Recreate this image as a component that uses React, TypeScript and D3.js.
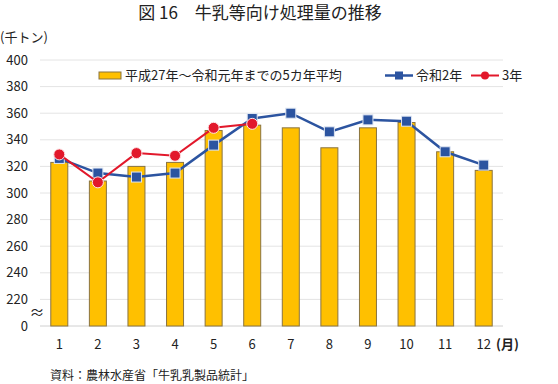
import * as d3 from "d3";

const months = ["1", "2", "3", "4", "5", "6", "7", "8", "9", "10", "11", "12"];
const avg5 = [323, 309, 320, 323, 347, 351, 349, 334, 349, 353, 331, 317];
const r2 = [326, 315, 312, 315, 336, 356, 360, 346, 355, 354, 331, 321];
const r3 = [329, 308, 330, 328, 349, 352];
const yTicks = [200, 220, 240, 260, 280, 300, 320, 340, 360, 380, 400];

const FONT = "'Noto Sans CJK JP', 'Noto Sans', sans-serif";
const W = 558;
const H = 384;

export default function App() {
  const x = d3.scaleBand().domain(months).range([40, 503]);
  // bottom step is a scale break: 200 is drawn as "0"
  const y = d3.scaleLinear().domain([200, 400]).range([326, 60]);
  const cx = (m: string) => (x(m) ?? 0) + x.bandwidth() / 2;
  const barW = 17;

  const line = d3
    .line<number>()
    .x((_, i) => cx(months[i]))
    .y((d) => y(d));

  return (
    <svg
      width={W}
      height={H}
      style={{ position: "absolute", left: 0, top: 0, background: "#fff" }}
      fontFamily={FONT}
    >
      <text x={260} y={19} textAnchor="middle" fontSize={17} fill="#222">
        図 16　牛乳等向け処理量の推移
      </text>
      <text x={0} y={42} fontSize={13} fill="#222">
        (千トン)
      </text>

      {/* gridlines */}
      {yTicks.map((t) => (
        <line
          key={t}
          x1={40}
          x2={503}
          y1={y(t)}
          y2={y(t)}
          stroke={t === 200 ? "#d0d0d0" : "#e4e4e4"}
          strokeWidth={1}
        />
      ))}
      {yTicks.map((t) => (
        <text
          key={"l" + t}
          x={28}
          y={y(t)}
          dy="0.35em"
          textAnchor="end"
          fontSize={13}
          fill="#222"
        >
          {t === 200 ? "0" : t}
        </text>
      ))}
      <text x={37} y={313} dy="0.35em" textAnchor="middle" fontSize={15} fill="#222">
        ≈
      </text>

      {/* bars */}
      {avg5.map((v, i) => (
        <rect
          key={"b" + i}
          x={cx(months[i]) - barW / 2}
          y={y(v)}
          width={barW}
          height={y(200) - y(v)}
          fill="#FFC000"
          stroke="#8a7440"
          strokeWidth={1}
        />
      ))}

      {/* 令和2年 */}
      <path d={line(r2) ?? ""} fill="none" stroke="#2C54A0" strokeWidth={2.5} />
      {r2.map((v, i) => (
        <rect
          key={"s" + i}
          x={cx(months[i]) - 5}
          y={y(v) - 5}
          width={10}
          height={10}
          fill="#2C54A0"
          stroke="#dfe6f2"
          strokeWidth={1}
        />
      ))}

      {/* 3年 */}
      <path d={line(r3) ?? ""} fill="none" stroke="#E2182B" strokeWidth={2} />
      {r3.map((v, i) => (
        <circle
          key={"c" + i}
          cx={cx(months[i])}
          cy={y(v)}
          r={5.5}
          fill="#E2182B"
          stroke="#fde4e6"
          strokeWidth={1}
        />
      ))}

      {/* x labels */}
      {months.map((m) => (
        <text key={"x" + m} x={cx(m)} y={349} textAnchor="middle" fontSize={13} fill="#222">
          {m}
        </text>
      ))}
      <text x={496} y={349} fontSize={13} fontWeight="bold" fill="#222">
        (月)
      </text>
      <text x={50} y={380} fontSize={12} fill="#222">
        資料：農林水産省「牛乳乳製品統計」
      </text>

      {/* legend */}
      <rect x={99} y={72} width={22} height={7} fill="#FFC000" stroke="#8a7440" strokeWidth={1} />
      <text x={125} y={80} fontSize={13} fill="#222">
        平成27年～令和元年までの5カ年平均
      </text>
      <line x1={385} x2={413} y1={75.5} y2={75.5} stroke="#2C54A0" strokeWidth={2.5} />
      <rect x={395} y={71.5} width={8} height={8} fill="#2C54A0" />
      <text x={416} y={80} fontSize={13} fill="#222">
        令和2年
      </text>
      <line x1={471} x2={499} y1={75.5} y2={75.5} stroke="#E2182B" strokeWidth={2} />
      <circle cx={485} cy={75.5} r={4} fill="#E2182B" />
      <text x={502} y={80} fontSize={13} fill="#222">
        3年
      </text>
    </svg>
  );
}
